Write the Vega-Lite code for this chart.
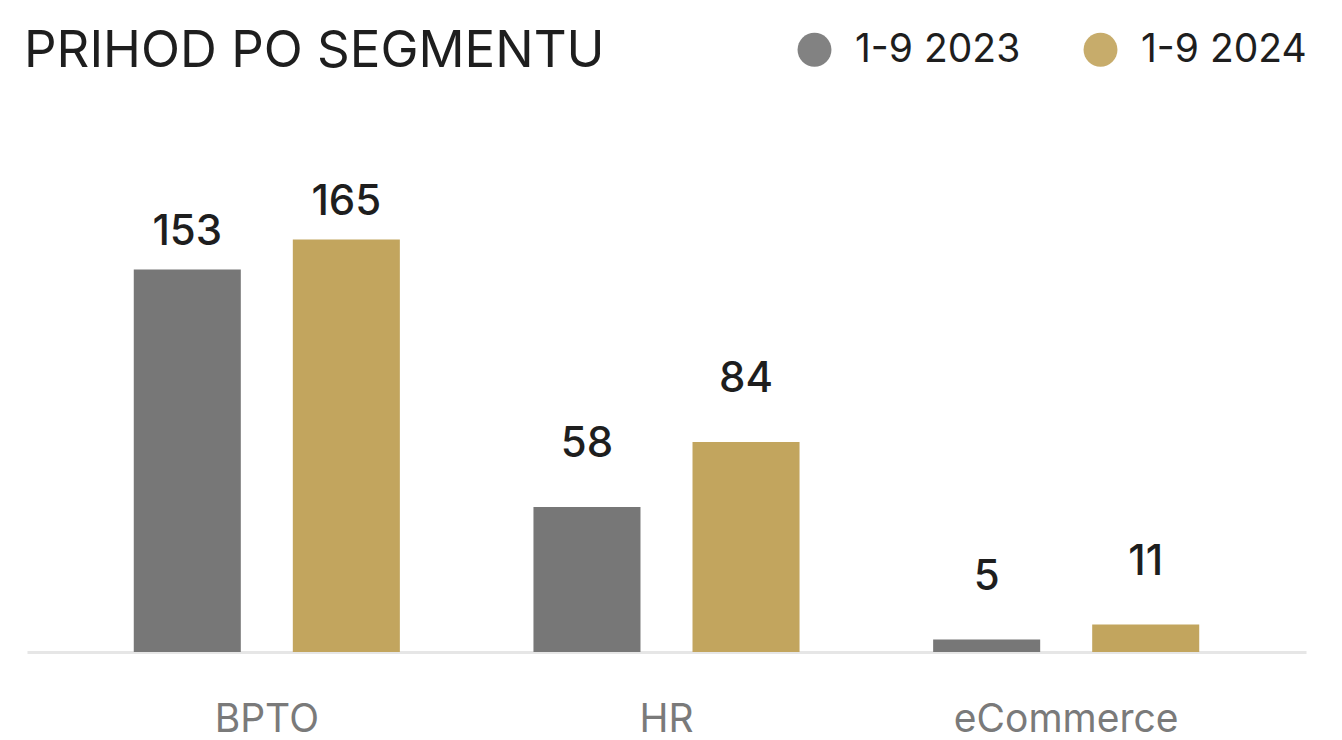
{
  "$schema": "https://vega.github.io/schema/vega-lite/v6.json",
  "width": 1279,
  "height": 552,
  "autosize": {"type": "none"},
  "padding": {"left": 27, "top": 100, "right": 36, "bottom": 88},
  "background": "white",
  "title": {
    "text": "PRIHOD PO SEGMENTU",
    "anchor": "start",
    "frame": "group",
    "orient": "top",
    "font": "Inter",
    "fontSize": 51,
    "fontWeight": 400,
    "color": "#1e1e1e",
    "baseline": "alphabetic",
    "offset": 0,
    "dx": -3,
    "dy": 88
  },
  "data": {
    "values": [
      {"segment": "BPTO", "period": "1-9 2023", "value": 153},
      {"segment": "BPTO", "period": "1-9 2024", "value": 165},
      {"segment": "HR", "period": "1-9 2023", "value": 58},
      {"segment": "HR", "period": "1-9 2024", "value": 84},
      {"segment": "eCommerce", "period": "1-9 2023", "value": 5},
      {"segment": "eCommerce", "period": "1-9 2024", "value": 11}
    ]
  },
  "encoding": {
    "x": {
      "field": "segment",
      "type": "nominal",
      "sort": ["BPTO", "HR", "eCommerce"],
      "scale": {"paddingInner": 0, "paddingOuter": 0.1},
      "axis": {
        "title": null,
        "ticks": false,
        "grid": false,
        "domainColor": "#e6e6e6",
        "domainWidth": 3,
        "labelAngle": 0,
        "labelFont": "Inter",
        "labelFontSize": 39,
        "labelColor": "#7a7a7a",
        "labelPadding": 79,
        "labelLimit": 400,
        "labelBaseline": "alphabetic"
      }
    },
    "xOffset": {
      "field": "period",
      "type": "nominal",
      "scale": {"paddingInner": 0.327, "paddingOuter": 0.42}
    },
    "y": {
      "field": "value",
      "type": "quantitative",
      "scale": {"domain": [0, 220.8], "nice": false, "zero": true},
      "axis": null
    },
    "color": {
      "field": "period",
      "type": "nominal",
      "scale": {"domain": ["1-9 2023", "1-9 2024"], "range": ["#777777", "#c2a55e"]},
      "legend": {
        "title": null,
        "orient": "none",
        "direction": "horizontal",
        "legendX": 768,
        "legendY": -70,
        "symbolType": "circle",
        "symbolSize": 1150,
        "symbolStrokeWidth": 0,
        "symbolOpacity": 0.92,
        "labelFont": "Inter",
        "labelFontSize": 39,
        "labelColor": "#1e1e1e",
        "labelOffset": 21,
        "columnPadding": 60,
        "labelLimit": 400
      }
    }
  },
  "layer": [
    {"mark": {"type": "bar"}},
    {
      "transform": [{"filter": "datum.segment === 'BPTO'"}],
      "mark": {
        "type": "text",
        "baseline": "alphabetic",
        "dy": -25,
        "font": "Inter",
        "fontSize": 42,
        "fontWeight": 500,
        "color": "#1e1e1e"
      },
      "encoding": {
        "text": {"field": "value", "type": "quantitative"},
        "color": {"value": "#1e1e1e"}
      }
    },
    {
      "transform": [{"filter": "datum.segment !== 'BPTO'"}],
      "mark": {
        "type": "text",
        "baseline": "alphabetic",
        "dy": -50,
        "font": "Inter",
        "fontSize": 42,
        "fontWeight": 500,
        "color": "#1e1e1e"
      },
      "encoding": {
        "text": {"field": "value", "type": "quantitative"},
        "color": {"value": "#1e1e1e"}
      }
    }
  ],
  "config": {"view": {"stroke": null}}
}
